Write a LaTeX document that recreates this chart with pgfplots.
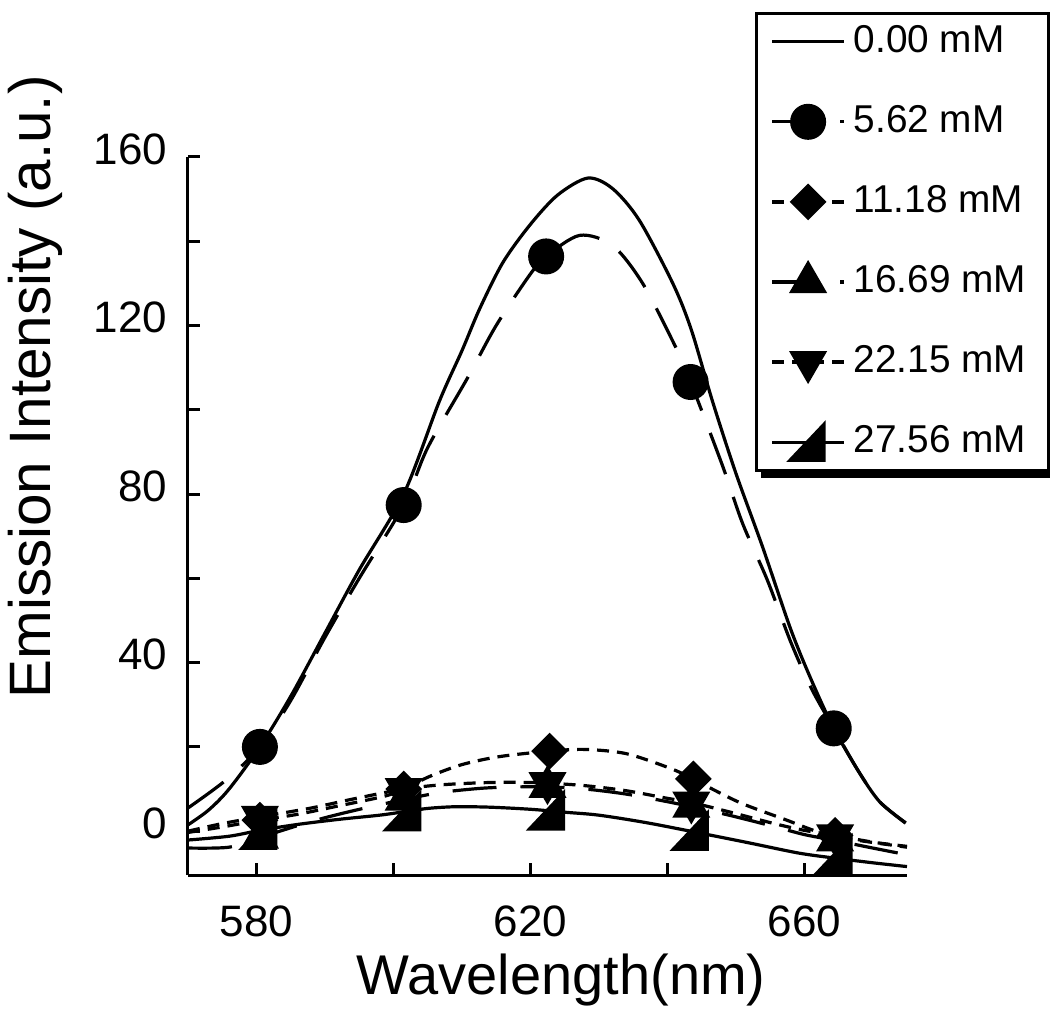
\documentclass[border=0pt]{standalone}
\usepackage{fontspec}
\setmainfont{Liberation Sans}
\usepackage{pgfplots}
\pgfplotsset{compat=1.18}
\pgfdeclareplotmark{rtri}{%
 \pgfpathmoveto{\pgfqpoint{4pt}{4.5pt}}%
 \pgfpathlineto{\pgfqpoint{4pt}{-4.5pt}}%
 \pgfpathlineto{\pgfqpoint{-4.5pt}{-4.5pt}}%
 \pgfpathclose\pgfusepathqfillstroke}
\tikzset{
 ldash/.style={dash pattern=on 11pt off 6pt},
 sdash/.style={dash pattern=on 3pt off 2pt},
}
\begin{document}
\begin{tikzpicture}
\useasboundingbox (-47pt,-35.75pt) rectangle (215.5pt,218.75pt);
\begin{axis}[
 at={(0,0)}, anchor=south west,
 scale only axis, width=179.75pt, height=179.5pt,
 xmin=570, xmax=675, ymin=-10.4, ymax=160,
 axis x line*=bottom, axis y line*=left,
 axis line style={line width=0.75pt},
 tick align=inside,
 major tick length=3pt, minor tick length=3pt,
 every tick/.style={black, line width=0.75pt},
 xtick={580,620,660}, minor xtick={600,640},
 ytick={0,40,80,120,160}, minor ytick={20,60,100,140},
 /pgf/number format/assume math mode=true,
 ticklabel style={font=\fontsize{11}{13}\selectfont},
 xticklabel style={inner sep=0pt, yshift=-7.5pt},
 yticklabel style={inner sep=0pt, xshift=-5pt, yshift=2pt},
 xlabel={Wavelength(nm)}, ylabel={Emission Intensity (a.u.)},
 xlabel style={at={(rel axis cs:0.519,-0.146)}, anchor=center, font=\fontsize{14}{16}\selectfont},
 ylabel style={at={(rel axis cs:-0.2128,0.6797)}, anchor=center, font=\fontsize{14.6}{16}\selectfont},
 clip=false,
 every axis plot/.append style={line width=0.8pt, black},
 legend image code/.code={\draw[mark repeat=2,mark phase=2,#1] plot coordinates {(0pt,0pt) (9pt,0pt) (18pt,0pt)};},
 legend cell align=left,
 legend style={name=leg, at={(rel axis cs:0.7886,1.2024)}, anchor=north west,
   draw=black, line width=0.75pt, fill=white,
   font=\fontsize{9.7}{11}\selectfont,
   row sep=7.75pt, inner xsep=3.5pt, inner ysep=1pt},
]
% 0.00 mM solid
\addplot[solid, smooth, forget plot] coordinates {
(570,1.5) (573,5) (576,10) (580.5,20) (585,32) (590,47) (595,62) (601.5,80)
(606.7,102) (610,114) (612.6,124) (616,135) (620,144) (624,151) (628.4,155)
(632,152.5) (635.9,145) (640.8,130) (643.5,119) (646.6,102) (650,85) (653.9,67.5)
(658,48) (661,36) (664.3,24.4) (668,14) (671,7) (674.8,1.9)};
% 5.62 mM long dash
\addplot[ldash, smooth, forget plot] coordinates {
(570,5.5) (575.6,12.2) (580.5,20) (585,31) (590,46) (595,60) (601.5,77.4)
(605,91) (610.8,107.5) (615,120) (619.9,132) (622.3,136.4) (627.2,141.4)
(632,139) (636.4,130) (641.3,114.6) (643.4,106.6) (648,87) (651,73) (654.6,59.6)
(658,45) (661,34) (664.3,24.4) (668,14) (671,7) (674.8,2)};
% 11.18 mM short dash
\addplot[sdash, smooth, forget plot] coordinates {
(570,-0.3) (575,1.0) (580.5,2.6) (586,4.0) (592,6.0) (598.7,8.3) (601.5,10.0)
(605.3,13.0) (610,15.8) (615.5,17.7) (622.8,19.0) (628,19.4) (634,18.4)
(640.3,15.0) (643.8,12.4) (646.8,9.8) (651,6.5) (657.3,2.7) (661.7,0.0)
(664.5,-1.0) (668,-2.2) (675,-3.8)};
% 16.69 mM long dash
\addplot[ldash, smooth, forget plot] coordinates {
(570,-4) (576,-3.8) (580.5,-1.5) (588,2.3) (594,4.8) (601.5,7.5) (607,9.2)
(613,10.2) (618,10.5) (622.5,10.5) (628,10) (634,8.8) (640,7) (643.5,5.8)
(649,3.8) (655.6,1.1) (660,-0.8) (664.5,-2.2) (670,-4) (675,-5.6)};
% 22.15 mM short dash
\addplot[sdash, smooth, forget plot] coordinates {
(570,0) (575,1.8) (580.5,3.4) (588,5.5) (594,7.6) (601.5,10.0) (607,11.0)
(613,11.5) (618,11.6) (622.5,11.4) (628,10.8) (634,9.6) (640,7.8) (643.5,6.8)
(649,4.6) (655.6,1.8) (660,0.2) (664.5,-1.0) (670,-2.6) (675,-3.6)};
% 27.56 mM solid
\addplot[solid, smooth, forget plot] coordinates {
(570,-2.1) (576,-1.2) (580.5,0.2) (586,1.6) (592,2.8) (598,3.8) (601.5,4.6)
(605,5.4) (609,5.8) (614,5.7) (620,5.2) (625,4.5) (630,3.8) (637,2.0)
(644.6,-0.4) (652,-2.8) (659.2,-5.2) (664.5,-6.4) (670,-7.5) (675,-8.4)};
% markers
\addplot[only marks, mark=*, mark size=4.1pt, forget plot] coordinates {
(580.5,20) (601.5,77.4) (622.3,136.4) (643.4,106.6) (664.3,24.4)};
\addplot[only marks, mark=square*, mark size=2.85pt, mark options={rotate=45}, forget plot] coordinates {
(580.5,2.6) (601.5,10) (622.8,19) (643.8,12.4) (664.5,-1)};
\addplot[only marks, mark=triangle*, mark size=4.7pt, forget plot] coordinates {
(580.5,-1.5) (601.5,7.5) (622.5,10.5) (643.5,5.8) (664.5,-2.2)};
\addplot[only marks, mark=triangle*, mark size=4.7pt, mark options={rotate=180}, forget plot] coordinates {
(580.5,3.4) (601.5,10) (622.5,11.4) (643.5,6.8) (664.5,-1)};
\addplot[only marks, mark=rtri, forget plot] coordinates {
(580.5,0.2) (601.5,4.6) (622.5,4.8) (643.5,0) (664.5,-5.6)};
% legend
\addlegendimage{solid, line width=0.8pt}
\addlegendentry{0.00 mM}
\addlegendimage{ldash, line width=0.8pt, mark=*, mark size=4.1pt, mark options={solid}}
\addlegendentry{5.62 mM}
\addlegendimage{sdash, line width=0.8pt, mark=square*, mark size=2.85pt, mark options={solid, rotate=45}}
\addlegendentry{11.18 mM}
\addlegendimage{ldash, line width=0.8pt, mark=triangle*, mark size=4.7pt, mark options={solid}}
\addlegendentry{16.69 mM}
\addlegendimage{sdash, line width=0.8pt, mark=triangle*, mark size=4.7pt, mark options={solid, rotate=180}}
\addlegendentry{22.15 mM}
\addlegendimage{solid, line width=0.8pt, mark=rtri}
\addlegendentry{27.56 mM}
\end{axis}
\fill[black] ([xshift=1.5pt]leg.south west) rectangle ([xshift=1.5pt,yshift=-1.5pt]leg.south east);
\fill[black] ([yshift=-1.5pt]leg.north east) rectangle ([xshift=1.5pt,yshift=-1.5pt]leg.south east);
\end{tikzpicture}
\end{document}
